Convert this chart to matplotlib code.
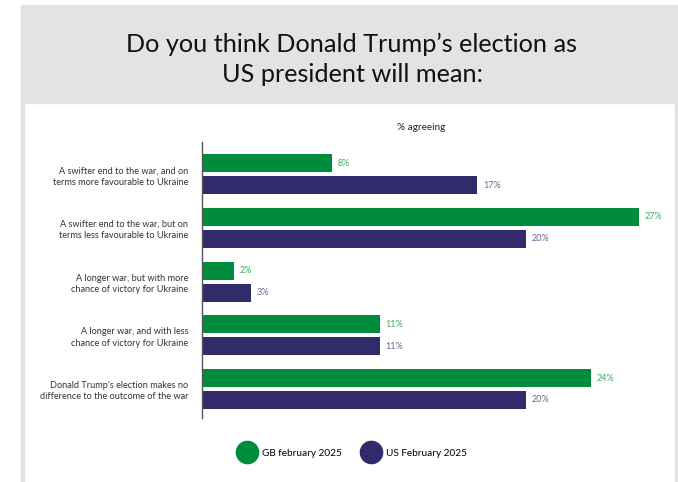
import matplotlib.pyplot as plt
import numpy as np
from matplotlib.lines import Line2D
from matplotlib.patches import Rectangle

plt.rcParams['font.family'] = ['Lato', 'DejaVu Sans']

categories = [
    'A swifter end to the war, and on\nterms more favourable to Ukraine',
    'A swifter end to the war, but on\nterms less favourable to Ukraine',
    'A longer war, but with more\nchance of victory for Ukraine',
    'A longer war, and with less\nchance of victory for Ukraine',
    "Donald Trump's election makes no\ndifference to the outcome of the war",
]
gb_values = [8, 27, 2, 11, 24]
us_values = [17, 20, 3, 11, 20]
series_names = ['GB february 2025', 'US February 2025']

green = '#008c3d'
purple = '#312b6b'
green_txt = '#3fa865'
purple_txt = '#6a6598'
header_grey = '#e3e3e3'

fig = plt.figure(figsize=(6.78, 4.82), dpi=100)

# grey header block and thin side borders
fig.patches.append(Rectangle((21/678, 1-103/482), 657/678, 98/482,
                             transform=fig.transFigure, color=header_grey, zorder=0))
fig.patches.append(Rectangle((21/678, 0), 3/678, 1-103/482,
                             transform=fig.transFigure, color=header_grey, zorder=0))
fig.patches.append(Rectangle((675/678, 0), 3/678, 1-103/482,
                             transform=fig.transFigure, color=header_grey, zorder=0))

fig.text(352/678, 1-44/482, 'Do you think Donald Trump\u2019s election as',
         ha='center', va='center', fontsize=18.2, color='#111111')
fig.text(352/678, 1-75/482, 'US president will mean:',
         ha='center', va='center', fontsize=18.2, color='#111111')

ax = fig.add_axes([202/678, 1-418/482, 466/678, 276/482])
y = np.arange(len(categories))
h = 0.335
off = 0.204
ax.barh(y - off, gb_values, height=h, color=green)
ax.barh(y + off, us_values, height=h, color=purple)

for yi, v in zip(y, gb_values):
    ax.text(v + 0.35, yi - off, f'{v}%', va='center', ha='left', fontsize=6.5, color=green_txt)
for yi, v in zip(y, us_values):
    ax.text(v + 0.35, yi + off, f'{v}%', va='center', ha='left', fontsize=6.5, color=purple_txt)

ax.set_xlim(0, 466/16.19)
ax.set_ylim(4.54, -0.6)
ax.set_yticks(y)
ax.set_yticklabels(categories, fontsize=6.6, color='#333333', linespacing=1.35)
ax.tick_params(axis='y', length=0, pad=10)
ax.set_xticks([])
for s in ['top', 'right', 'bottom']:
    ax.spines[s].set_visible(False)
ax.spines['left'].set_color('#555555')
ax.spines['left'].set_linewidth(1)

fig.text(421/678, 1-128/482, '% agreeing', ha='center', va='center',
         fontsize=7.2, color='#222222')

handles = [Line2D([], [], marker='o', linestyle='none', markersize=16, color=green),
           Line2D([], [], marker='o', linestyle='none', markersize=16, color=purple)]
fig.legend(handles, series_names, loc='center', bbox_to_anchor=(352/678, 1-453/482),
           ncol=2, frameon=False, fontsize=7.2, handletextpad=0.5, columnspacing=2.0)

fig.savefig('out.png', dpi=100)
